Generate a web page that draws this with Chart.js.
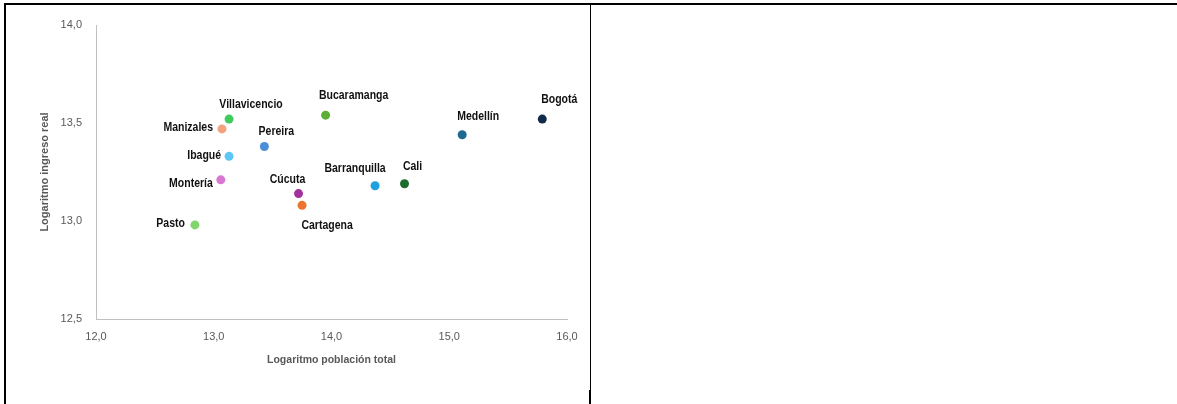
<!DOCTYPE html>
<html>
<head>
<meta charset="utf-8">
<script src="https://cdn.jsdelivr.net/npm/chart.js@4"></script>
<style>
  body { margin: 0; background: #fff; }
  #wrap { position: relative; width: 1177px; height: 404px; overflow: hidden; }
  #chartCanvas { position: absolute; left: 0; top: 0; }
  .line { position: absolute; background: #000; }
</style>
</head>
<body>
<div id="wrap">
  <canvas id="chartCanvas" width="589" height="404"></canvas>
  <div class="line" style="left:4px;top:3px;width:1173px;height:2px;"></div>
  <div class="line" style="left:4px;top:3px;width:2px;height:401px;"></div>
  <div class="line" style="left:590px;top:5px;width:1px;height:385px;"></div>
  <div class="line" style="left:589px;top:390px;width:2px;height:14px;"></div>
</div>
<script>
// datos: ciudades, logaritmo de poblacion total y de ingreso real
const ciudades = ["Villavicencio", "Manizales", "Pereira", "Ibagué", "Montería", "Cúcuta",
  "Cartagena", "Pasto", "Bucaramanga", "Medellín", "Bogotá", "Barranquilla", "Cali"];
const logPoblacion = [13.13, 13.07, 13.43, 13.13, 13.06, 13.72, 13.75, 12.84, 13.95, 15.11, 15.79, 14.37, 14.62];
const logIngreso = [13.52, 13.47, 13.38, 13.33, 13.21, 13.14, 13.08, 12.98, 13.54, 13.44, 13.52, 13.18, 13.19];
const colores = ["#3fcc5c", "#f2a27e", "#4b8fd8", "#5cc6f4", "#d978d2", "#a2319c",
  "#ee7331", "#82d46c", "#5aaf34", "#1f6890", "#102b47", "#1ea1df", "#1b6c2d"];
const ticksX = [12, 13, 14, 15, 16];
const ticksY = [12.5, 13.0, 13.5, 14.0];

// donde va cada etiqueta respecto al punto: [alineacion, dx, dy]
const posEtiquetas = [
  ["center", 22, -15], ["right", -9, -1], ["center", 12, -15], ["right", -8, -1],
  ["right", -8, 4], ["center", -11, -14], ["center", 25, 20], ["right", -10, -1],
  ["center", 28, -20], ["center", 16, -18], ["center", 17, -20], ["center", -20, -17],
  ["center", 8, -17]
];

const fuente = "'Liberation Sans', Arial, sans-serif";
const angosto = 0.84; // simula Arial Narrow
const fmt = (v) => v.toFixed(1).replace(".", ",");

const etiquetasPlugin = {
  id: "etiquetas",
  afterDatasetsDraw(chart) {
    const ctx = chart.ctx;
    const meta = chart.getDatasetMeta(0);
    ctx.save();
    ctx.scale(angosto, 1);
    ctx.font = "bold 12.5px " + fuente;
    ctx.fillStyle = "#111";
    ctx.textBaseline = "middle";
    meta.data.forEach((pt, i) => {
      const [al, dx, dy] = posEtiquetas[i];
      ctx.textAlign = al;
      ctx.fillText(ciudades[i], (pt.x + dx) / angosto, pt.y + dy);
    });
    ctx.restore();
  }
};

const canvas = document.getElementById("chartCanvas");
new Chart(canvas, {
  type: "scatter",
  data: {
    datasets: [{
      data: logPoblacion.map((x, i) => ({ x: x, y: logIngreso[i] })),
      pointBackgroundColor: colores,
      pointBorderWidth: 0,
      pointRadius: 4.5,
      pointHoverRadius: 4.5
    }]
  },
  options: {
    responsive: false,
    animation: false,
    devicePixelRatio: 1,
    layout: { padding: { top: 25, right: 22, left: 0, bottom: 0 } },
    plugins: { legend: { display: false }, tooltip: { enabled: false } },
    scales: {
      x: {
        type: "linear",
        min: 12, max: 16,
        afterFit: (s) => { s.height = 85; },
        afterBuildTicks: (s) => { s.ticks = ticksX.map((v) => ({ value: v })); },
        grid: { display: false, drawTicks: false },
        border: { color: "#c0c0c0", width: 1 },
        ticks: {
          padding: 11,
          color: "#595959",
          font: { family: fuente, size: 11 },
          callback: (v) => fmt(v)
        },
        title: {
          display: true,
          text: "Logaritmo población total",
          color: "#595959",
          font: { family: fuente, size: 10.5, weight: "bold" },
          padding: { top: 0, bottom: 38 }
        }
      },
      y: {
        type: "linear",
        min: 12.5, max: 14,
        afterFit: (s) => { s.width = 96; },
        afterBuildTicks: (s) => { s.ticks = ticksY.map((v) => ({ value: v })); },
        grid: { display: false, drawTicks: false },
        border: { color: "#c0c0c0", width: 1 },
        ticks: {
          padding: 14,
          color: "#595959",
          font: { family: fuente, size: 11 },
          callback: (v) => fmt(v)
        },
        title: {
          display: true,
          text: "Logaritmo ingreso real",
          color: "#595959",
          font: { family: fuente, size: 11, weight: "bold" },
          padding: { top: 38, bottom: 0 }
        }
      }
    }
  },
  plugins: [etiquetasPlugin]
});
</script>
</body>
</html>
